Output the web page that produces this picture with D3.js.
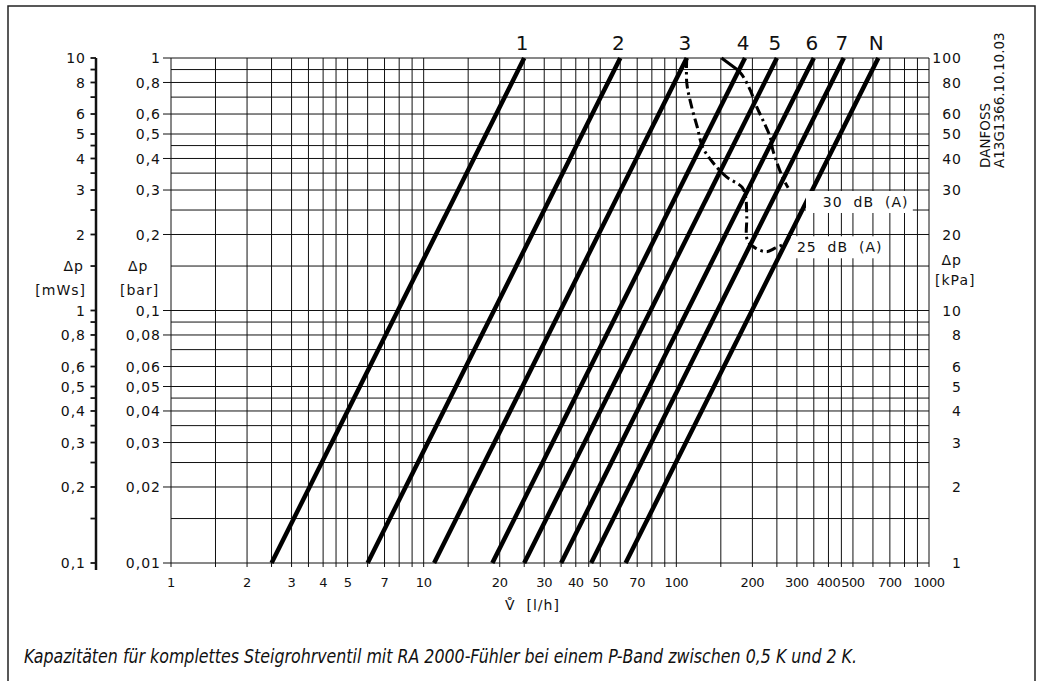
<!DOCTYPE html>
<html>
<head>
<meta charset="utf-8">
<script src="https://cdn.jsdelivr.net/npm/d3@7"></script>
<style>
  body { margin: 0; background: #fff; }
  svg text { font-family: "DejaVu Sans", sans-serif; fill: #111; }
</style>
</head>
<body>
<svg id="chart" width="1042" height="681"></svg>
<script>
// flow axis labels (l/h) and grid steps inside each decade
const flowTicks = [1, 2, 3, 4, 5, 7, 10, 20, 30, 40, 50, 70, 100, 200, 300, 400, 500, 700, 1000];
const gridSteps = [1, 1.5, 2, 2.5, 3, 3.5, 4, 4.5, 5, 6, 7, 8, 9];
// pressure drop labels in bar; mWs = bar*10, kPa = bar*100
const barTicks = [1, 0.8, 0.6, 0.5, 0.4, 0.3, 0.2, 0.1, 0.08, 0.06, 0.05, 0.04, 0.03, 0.02, 0.01];

// presetting lines: flow at 0.01 bar and at 1 bar
const presets = ["1", "2", "3", "4", "5", "6", "7", "N"];
const flowLow = [2.5, 6, 11, 18.7, 25, 35, 46, 63];
const flowHigh = [25, 60, 110, 187, 250, 350, 460, 630];

// noise limit curves [flow l/h, dp bar]
const curve25 = [[110, 1], [110, 0.796], [115, 0.64], [121, 0.533], [127, 0.444], [140, 0.384], [158, 0.338],
  [182, 0.308], [188, 0.282], [190, 0.235], [191, 0.19], [205, 0.177], [228, 0.171], [247, 0.177], [264, 0.182]];
const curve30Head = [[151, 1], [175, 0.896]];
const curve30 = [[175, 0.896], [182, 0.857], [196, 0.747], [208, 0.64], [220, 0.568], [235, 0.487],
  [241, 0.432], [252, 0.377], [264, 0.335], [277, 0.306]];

const fmt = v => String(+v.toPrecision(3)).replace(".", ",");

const svg = d3.select("#chart");
const x = d3.scaleLog().domain([1, 1000]).range([171, 929]);
const y = d3.scaleLog().domain([0.01, 1]).range([563, 58]);

// frame
svg.append("rect").attr("x", 8).attr("y", 6).attr("width", 1027).attr("height", 700)
  .attr("fill", "none").attr("stroke", "#222").attr("stroke-width", 1.5);

// grid values
const vGrid = [];
[1, 10, 100].forEach(d => gridSteps.forEach(m => vGrid.push(d * m)));
vGrid.push(1000);
const hGrid = [];
[0.01, 0.1].forEach(d => gridSteps.forEach(m => hGrid.push(+(d * m).toPrecision(3))));
hGrid.push(1);

const grid = svg.append("g").attr("stroke", "#111").attr("stroke-width", 1);
grid.selectAll(".v").data(vGrid).join("line")
  .attr("x1", d => x(d)).attr("x2", d => x(d))
  .attr("y1", y(1)).attr("y2", y(0.01) + 4);
grid.selectAll(".h").data(hGrid).join("line")
  .attr("x1", d => barTicks.includes(d) ? x(1) - 8 : x(1)).attr("x2", x(1000))
  .attr("y1", d => y(d)).attr("y2", d => y(d));

// bottom axis labels
svg.append("g").selectAll("text").data(flowTicks).join("text")
  .attr("x", d => x(d)).attr("y", 587).attr("text-anchor", "middle")
  .attr("font-size", 13).attr("letter-spacing", -0.4).text(d => d);
svg.append("text").attr("x", 505).attr("y", 610).attr("font-size", 14)
  .style("white-space", "pre").attr("letter-spacing", 1).text("V\u030A  [l/h]");

// mWs axis
svg.append("line").attr("x1", 96).attr("x2", 96).attr("y1", y(1)).attr("y2", y(0.01) + 7)
  .attr("stroke", "#111").attr("stroke-width", 2.5);
svg.append("g").selectAll("line").data(hGrid).join("line")
  .attr("x1", 90.5).attr("x2", 96).attr("y1", d => y(d)).attr("y2", d => y(d))
  .attr("stroke", "#111").attr("stroke-width", 1.8);
svg.append("g").selectAll("text").data(barTicks).join("text")
  .attr("x", 86).attr("y", d => y(d)).attr("dy", "0.36em").attr("text-anchor", "end")
  .attr("font-size", 14).attr("letter-spacing", 1).text(d => fmt(d * 10));
// bar labels
svg.append("g").selectAll("text").data(barTicks).join("text")
  .attr("x", 161).attr("y", d => y(d)).attr("dy", "0.36em").attr("text-anchor", "end")
  .attr("font-size", 14).attr("letter-spacing", 1).text(d => fmt(d));
// kPa labels
svg.append("g").selectAll("text").data(barTicks).join("text")
  .attr("x", 962).attr("y", d => y(d)).attr("dy", "0.36em").attr("text-anchor", "end")
  .attr("font-size", 14).attr("letter-spacing", 1).text(d => fmt(d * 100));

// unit labels
const unit = (tx, ty, t, anchor) => svg.append("text").attr("x", tx).attr("y", ty).attr("dy", "0.36em")
  .attr("text-anchor", anchor).attr("font-size", 14).attr("letter-spacing", 1).text(t);
unit(84, y(0.15), "\u0394p", "end");
unit(86, 290, "[mWs]", "end");
unit(128, y(0.15), "\u0394p", "start");
unit(120, 290, "[bar]", "start");
unit(962, 260, "\u0394p", "end");
unit(935, 280, "[kPa]", "start");

// presetting lines
const lines = presets.map((p, i) => ({ name: p, lo: flowLow[i], hi: flowHigh[i] }));
svg.append("g").selectAll("line").data(lines).join("line")
  .attr("x1", d => x(d.lo)).attr("y1", y(0.01)).attr("x2", d => x(d.hi)).attr("y2", y(1))
  .attr("stroke", "#000").attr("stroke-width", 4.5);
svg.append("g").selectAll("text").data(lines).join("text")
  .attr("x", d => x(d.hi) - 2).attr("y", 50).attr("text-anchor", "middle")
  .attr("font-size", 20).text(d => d.name);

// dB labels with white backing
const dbLabels = [{ t: "30  dB  (A)", v: 380, p: 0.269, bx: 806 }, { t: "25  dB  (A)", v: 300, p: 0.178, bx: 791 }];
svg.append("g").selectAll("rect").data(dbLabels).join("rect")
  .attr("x", d => d.bx).attr("y", d => y(d.p) - 11).attr("width", d => x(d.v) - d.bx + 90).attr("height", 22)
  .attr("fill", "#fff");

const line = d3.line().x(d => x(d[0])).y(d => y(d[1])).curve(d3.curveCatmullRom.alpha(0.5));
svg.append("path").attr("d", line(curve30Head)).attr("fill", "none")
  .attr("stroke", "#000").attr("stroke-width", 3);
[curve25, curve30].forEach(c => svg.append("path").attr("d", line(c)).attr("fill", "none")
  .attr("stroke", "#000").attr("stroke-width", 3).attr("stroke-dasharray", "10,4,2.5,4"));

svg.append("g").selectAll("text").data(dbLabels).join("text")
  .attr("x", d => x(d.v)).attr("y", d => y(d.p)).attr("dy", "0.36em")
  .attr("font-size", 14).attr("letter-spacing", 1).style("white-space", "pre").text(d => d.t);

// drawing code
svg.append("text").attr("transform", "translate(990,168) rotate(-90)")
  .attr("font-size", 13.5).text("DANFOSS");
svg.append("text").attr("transform", "translate(1004,168) rotate(-90)")
  .attr("font-size", 13.5).text("A13G1366.10.10.03");

// caption
svg.append("text").attr("x", 24).attr("y", 663)
  .style("font-family", "'Liberation Sans Narrow', 'DejaVu Sans Condensed', sans-serif")
  .attr("font-style", "italic").attr("font-size", 19)
  .attr("textLength", 833).attr("lengthAdjust", "spacingAndGlyphs")
  .text("Kapazitäten für komplettes Steigrohrventil mit RA 2000-Fühler bei einem P-Band zwischen 0,5 K und 2 K.");
</script>
</body>
</html>
